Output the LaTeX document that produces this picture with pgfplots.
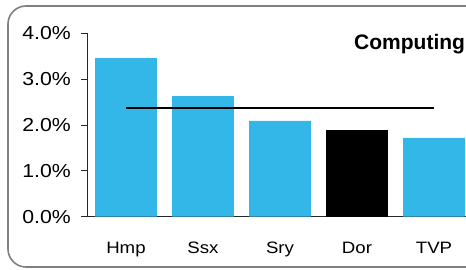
\documentclass[border=0pt]{standalone}
\usepackage{fontspec}
\setmainfont{Liberation Sans}
\newfontfamily\wfont[FakeStretch=1.13]{Liberation Sans}
\usepackage{pgfplots}
\pgfplotsset{compat=1.18}
\definecolor{barblue}{RGB}{50,183,232}
\definecolor{framegray}{RGB}{128,128,128}
\begin{document}
\begin{tikzpicture}
\useasboundingbox (0,0) rectangle (466bp,270bp);
\clip (0,0) rectangle (466bp,270bp);
\draw[framegray, line width=1.6bp, rounded corners=18bp] (8bp,3bp) rectangle (490bp,264bp);
\begin{axis}[
  at={(87bp,53.3bp)}, anchor=south west,
  scale only axis, width=386bp, height=183.2bp,
  xmin=-0.506, xmax=4.506, ymin=0, ymax=4,
  axis lines=left,
  axis line style={-, black!85, line width=0.8bp},
  ytick={0,1,2,3,4},
  yticklabel={\pgfmathprintnumber[fixed,fixed zerofill,precision=1]{\tick}\%},
  tick align=outside, major tick length=6bp,
  ytick style={black!85, line width=0.8bp},
  xtick={0,1,2,3,4},
  xticklabels={Hmp,Ssx,Sry,Dor,TVP},
  xtick style={draw=none},
  /pgf/number format/assume math mode=true,
  yticklabel style={font=\wfont\fontsize{18.8bp}{20bp}\selectfont, anchor=east, inner sep=0pt, xshift=-10bp},
  xticklabel style={font=\wfont\fontsize{16.5bp}{18bp}\selectfont, anchor=base, inner sep=0pt, yshift=-31bp},
  clip=false,
]
\addplot[ybar, bar width=61.7bp, bar shift=0pt, fill=barblue, draw=none]
  coordinates {(0,3.46) (1,2.63) (2,2.09) (4,1.72)};
\addplot[ybar, bar width=61.7bp, bar shift=0pt, fill=black, draw=none]
  coordinates {(3,1.89)};
\addplot[black, line width=2bp, no marks, sharp plot]
  coordinates {(0,2.37) (4,2.37)};
\end{axis}
\node[anchor=base west, inner sep=0pt, font=\bfseries\fontsize{21bp}{24bp}\selectfont] at (354bp,220.5bp) {Computing};
\end{tikzpicture}
\end{document}
